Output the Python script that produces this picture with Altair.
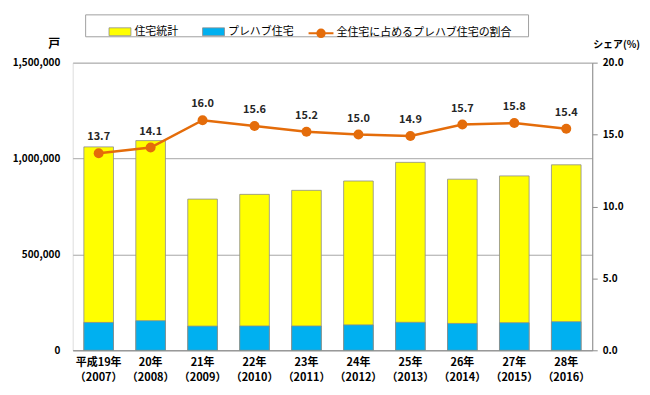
import altair as alt
import pandas as pd

years = ["平成19年|（2007）", "20年|（2008）", "21年|（2009）", "22年|（2010）", "23年|（2011）",
         "24年|（2012）", "25年|（2013）", "26年|（2014）", "27年|（2015）", "28年|（2016）"]
housing_total = [1060741, 1093519, 788410, 813126, 834117, 882797, 980025, 892261, 909299, 967237]
prefab = [145300, 154200, 126100, 126800, 126800, 132400, 146000, 140100, 143700, 149000]
share = [13.7, 14.1, 16.0, 15.6, 15.2, 15.0, 14.9, 15.7, 15.8, 15.4]
series_names = ["住宅統計", "プレハブ住宅"]
line_name = "全住宅に占めるプレハブ住宅の割合"
left_ticks = [0, 500000, 1000000, 1500000]
right_ticks = [0, 5, 10, 15, 20]

FONT = "Noto Sans CJK JP"
YELLOW = "#FFFF00"
BLUE = "#00B0F0"
ORANGE = "#E46C0A"
GRAY = "#8c8c8c"

bars_df = pd.DataFrame({
    "year": years + years,
    "series": [series_names[0]] * len(years) + [series_names[1]] * len(years),
    "value": housing_total + prefab,
})
share_df = pd.DataFrame({"year": years, "share": share, "name": [line_name] * len(years)})

x_enc = alt.X(
    "year:N", sort=years,
    scale=alt.Scale(paddingInner=0.43, paddingOuter=0.215),
    axis=alt.Axis(title=None, labelAngle=0, labelExpr="split(datum.label, '|')",
                  labelLineHeight=15, labelFontSize=11, labelFontWeight="bold",
                  labelColor="#000000", labelPadding=6, ticks=False,
                  domainColor=GRAY, labelFont=FONT),
)

frame = alt.Chart(pd.DataFrame({"a": [0]})).mark_rect(
    fill="white", stroke="#a0a0a0", strokeWidth=1
).encode(x=alt.value(13), x2=alt.value(458), y=alt.value(-48), y2=alt.value(-26))

bars = alt.Chart(bars_df).mark_bar(stroke=GRAY, strokeWidth=0.8).encode(
    x=x_enc,
    y=alt.Y("value:Q", stack=None,
            scale=alt.Scale(domain=[0, 1500000]),
            axis=alt.Axis(values=left_ticks, format=",.0f", title="戸", titleAngle=0,
                          titleX=-19, titleY=-19, titleAlign="center", titleBaseline="middle",
                          titleFontSize=12, titleFontWeight="bold", titleFont=FONT,
                          domain=False, ticks=False, labelPadding=13,
                          labelFontSize=10, labelFontWeight="bold", labelColor="#000000",
                          labelFont=FONT, gridColor="#a6a6a6", gridWidth=1)),
    color=alt.Color("series:N",
                    scale=alt.Scale(domain=series_names, range=[YELLOW, BLUE]),
                    legend=alt.Legend(title=None, orient="none", direction="horizontal",
                                      legendX=36, legendY=-43, padding=0,
                                      symbolType="M-1,-0.36H1V0.36H-1Z", symbolSize=484,
                                      symbolStrokeColor=GRAY, symbolStrokeWidth=0.8,
                                      labelOffset=3, columnPadding=22, labelLimit=300,
                                      labelFontSize=11, labelFont=FONT, labelColor="#000000")),
)

line = alt.Chart(share_df).mark_line(strokeWidth=2.5).encode(
    x=alt.X("year:N", sort=years),
    y=alt.Y("share:Q", scale=alt.Scale(domain=[0, 20]),
            axis=alt.Axis(orient="right", values=right_ticks, format=".1f", grid=False,
                          domainColor=GRAY, tickColor=GRAY, tickSize=5, labelPadding=5,
                          labelFontSize=10, labelFontWeight="bold", labelColor="#000000",
                          labelFont=FONT,
                          title="シェア(%)", titleAngle=0, titleX=24, titleY=-18,
                          titleAlign="center", titleBaseline="middle", titleFontSize=10,
                          titleFontWeight="bold", titleFont=FONT)),
    color=alt.Color("name:N",
                    scale=alt.Scale(domain=[line_name], range=[ORANGE]),
                    legend=alt.Legend(title=None, orient="none", legendX=236, legendY=-43,
                                      padding=0, labelLimit=300,
                                      symbolType="M-1,0H1M0.3,0A0.3,0.3,0,1,1,-0.3,0A0.3,0.3,0,1,1,0.3,0",
                                      symbolSize=625, symbolFillColor=ORANGE,
                                      symbolStrokeColor=ORANGE, symbolStrokeWidth=2,
                                      labelOffset=2, labelFontSize=11, labelFont=FONT,
                                      labelColor="#000000")),
)

points = alt.Chart(share_df).mark_point(filled=True, size=100, opacity=1, color=ORANGE).encode(
    x=alt.X("year:N", sort=years),
    y=alt.Y("share:Q"),
)

labels = alt.Chart(share_df).mark_text(dy=-16, fontSize=11, fontWeight="bold",
                                       color="#262626", font=FONT).encode(
    x=alt.X("year:N", sort=years),
    y=alt.Y("share:Q"),
    text=alt.Text("share:Q", format=".1f"),
)

right_layer = alt.layer(line, points, labels)

chart = alt.layer(frame, bars, right_layer).resolve_scale(
    y="independent", color="independent"
).properties(
    width=522, height=289,
    autosize=alt.AutoSizeParams(type="none"),
    padding={"left": 65, "top": 54, "right": 50, "bottom": 40},
    background="white",
).configure_view(stroke=None).configure(font=FONT)

chart.save("out.html", embed_options={"renderer": "svg", "actions": False})
